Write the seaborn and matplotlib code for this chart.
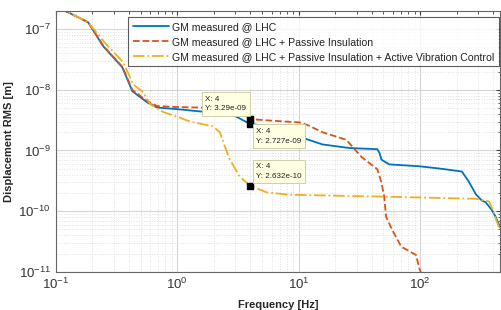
import numpy as np
import pandas as pd
import matplotlib
matplotlib.use('Agg')
import matplotlib.pyplot as plt
import seaborn as sns
from matplotlib.ticker import LogLocator, NullFormatter

# ===============================================
# Data (cumulative RMS displacement)
# ===============================================
freq_gm = [0.1, 0.114, 0.185, 0.247, 0.354, 0.428, 0.568, 0.686, 1.0, 1.55, 2.6, 3.0,
           4.0, 6.0, 8.4, 11.0, 15.7, 26.0, 44.5, 46.5, 48.0, 55.7, 98.0, 150.0,
           221.0, 251.0, 288.0, 322.0, 347.0, 389.0, 420.0, 455.0]
rms_gm = [2.4e-7, 2.1e-7, 1.3e-7, 5.2e-8, 2.35e-8, 9.5e-9, 6.2e-9, 5.1e-9, 4.8e-9, 4.4e-9,
          4.2e-9, 3.7e-9, 2.727e-9, 2.5e-9, 2.2e-9, 1.6e-9, 1.26e-9, 1.1e-9, 1.05e-9,
          9.0e-10, 7.1e-10, 5.9e-10, 5.5e-10, 5.0e-10, 4.5e-10, 3.1e-10, 1.9e-10, 1.5e-10,
          1.4e-10, 1.05e-10, 8.0e-11, 5.5e-11]

freq_pi = [0.1, 0.114, 0.185, 0.247, 0.354, 0.428, 0.568, 0.686, 1.0, 1.55, 2.5, 3.0,
           4.0, 6.0, 10.2, 12.0, 15.7, 24.7, 32.8, 44.5, 48.0, 50.7, 52.5, 59.0,
           70.0, 92.7, 98.0, 105.0]
rms_pi = [2.4e-7, 2.1e-7, 1.3e-7, 5.3e-8, 2.4e-8, 1.0e-8, 6.5e-9, 5.4e-9, 5.2e-9, 5.1e-9,
          4.9e-9, 4.5e-9, 3.29e-9, 3.1e-9, 2.9e-9, 2.6e-9, 2.0e-9, 1.5e-9, 7.9e-10,
          4.9e-10, 3.0e-10, 1.74e-10, 8.1e-11, 4.9e-11, 2.6e-11, 1.9e-11, 1.2e-11, 8e-12]

freq_avc = [0.1, 0.114, 0.185, 0.25, 0.36, 0.435, 0.526, 0.6, 0.77, 1.0, 1.28, 1.97,
            2.25, 2.47, 2.72, 3.28, 4.0, 5.47, 8.4, 20.0, 48.5, 150.0, 288.0, 368.0,
            404.0, 420.0, 455.0]
rms_avc = [2.4e-7, 2.1e-7, 1.3e-7, 6.2e-8, 2.85e-8, 1.23e-8, 9.1e-9, 5.8e-9, 4.3e-9,
           3.6e-9, 3.0e-9, 2.5e-9, 2.0e-9, 1.17e-9, 7.1e-10, 3.7e-10, 2.632e-10, 2.04e-10,
           1.87e-10, 1.8e-10, 1.74e-10, 1.65e-10, 1.6e-10, 1.45e-10, 9.8e-11, 7.5e-11,
           4.9e-11]

labels = ['GM measured @ LHC',
          'GM measured @ LHC + Passive Insulation',
          'GM measured @ LHC + Passive Insulation + Active Vibration Control']
colors = ['#0072BD', '#D95319', '#EDB120']
styles = ['-', '--', '-.']

tip_x = [4, 4, 4]
tip_y = [3.29e-9, 2.727e-9, 2.632e-10]
tip_text = ['X: 4\nY: 3.29e-09', 'X: 4\nY: 2.727e-09', 'X: 4\nY: 2.632e-10']

# ===============================================
# Plot
# ===============================================
sns.set_style('white')
plt.rcParams['font.family'] = ['Liberation Sans', 'DejaVu Sans']
plt.rcParams['mathtext.default'] = 'regular'

fig = plt.figure(figsize=(5.01, 3.10), dpi=100)
ax = fig.add_axes([0.111, 0.123, 0.887, 0.842])

series = [(freq_gm, rms_gm), (freq_pi, rms_pi), (freq_avc, rms_avc)]
for (fx, fy), lab, col, ls in zip(series, labels, colors, styles):
    df = pd.DataFrame({'f': fx, 'rms': fy})
    sns.lineplot(data=df, x='f', y='rms', ax=ax, color=col, linestyle=ls,
                 linewidth=1.3, label=lab, estimator=None, sort=False)

ax.set_xscale('log')
ax.set_yscale('log')
ax.set_xlim(0.1, 455)
ax.set_ylim(1e-11, 2e-7)

ax.yaxis.set_major_locator(LogLocator(base=10, numticks=10))
ax.yaxis.set_minor_locator(LogLocator(base=10, subs=np.arange(2, 10), numticks=20))
ax.xaxis.set_minor_locator(LogLocator(base=10, subs=np.arange(2, 10), numticks=20))
ax.yaxis.set_minor_formatter(NullFormatter())
ax.xaxis.set_minor_formatter(NullFormatter())

ax.grid(True, which='major', color='#d4d4d4', linewidth=0.8)
ax.grid(True, which='minor', color='#e0e0e0', linestyle=':', linewidth=0.7)
ax.set_axisbelow(True)

for s in ax.spines.values():
    s.set_color('#666666')
    s.set_linewidth(0.8)
ax.tick_params(which='both', direction='in', top=True, right=True, colors='#444444',
               labelcolor='#333333', labelsize=9.5)
ax.tick_params(which='major', length=3)
ax.tick_params(which='minor', length=1.8)

ax.set_xlabel('Frequency [Hz]', fontsize=8, fontweight='bold', labelpad=6)
ax.set_ylabel('Displacement RMS [m]', fontsize=8, fontweight='bold', labelpad=3)

leg = ax.legend(loc='upper right', fontsize=7.6, frameon=True, fancybox=False,
                borderpad=0.45, labelspacing=0.45, handlelength=3.4, handletextpad=0.3,
                bbox_to_anchor=(0.998, 0.975), borderaxespad=0)
leg.get_frame().set_edgecolor('#333333')
leg.get_frame().set_linewidth(0.8)
for t in leg.get_texts():
    t.set_color('#222222')

# data tips
ax.scatter(tip_x, tip_y, marker='s', color='black', s=14, zorder=5)
offsets = [(-4, 7, 'right', 'bottom'), (6, -4, 'left', 'top'), (6, 6, 'left', 'bottom')]
for x, y, txt, (dx, dy, ha, va) in zip(tip_x, tip_y, tip_text, offsets):
    ax.annotate(txt, xy=(x, y), xytext=(dx, dy), textcoords='offset pixels',
                ha=ha, va=va, multialignment='left', fontsize=5.8, color='#222222',
                linespacing=1.5,
                bbox=dict(boxstyle='square,pad=0.45', fc='#FFFFE1', ec='#C8C8A0', lw=0.6),
                zorder=6)

plt.savefig('out.png', dpi=100)
plt.close()
